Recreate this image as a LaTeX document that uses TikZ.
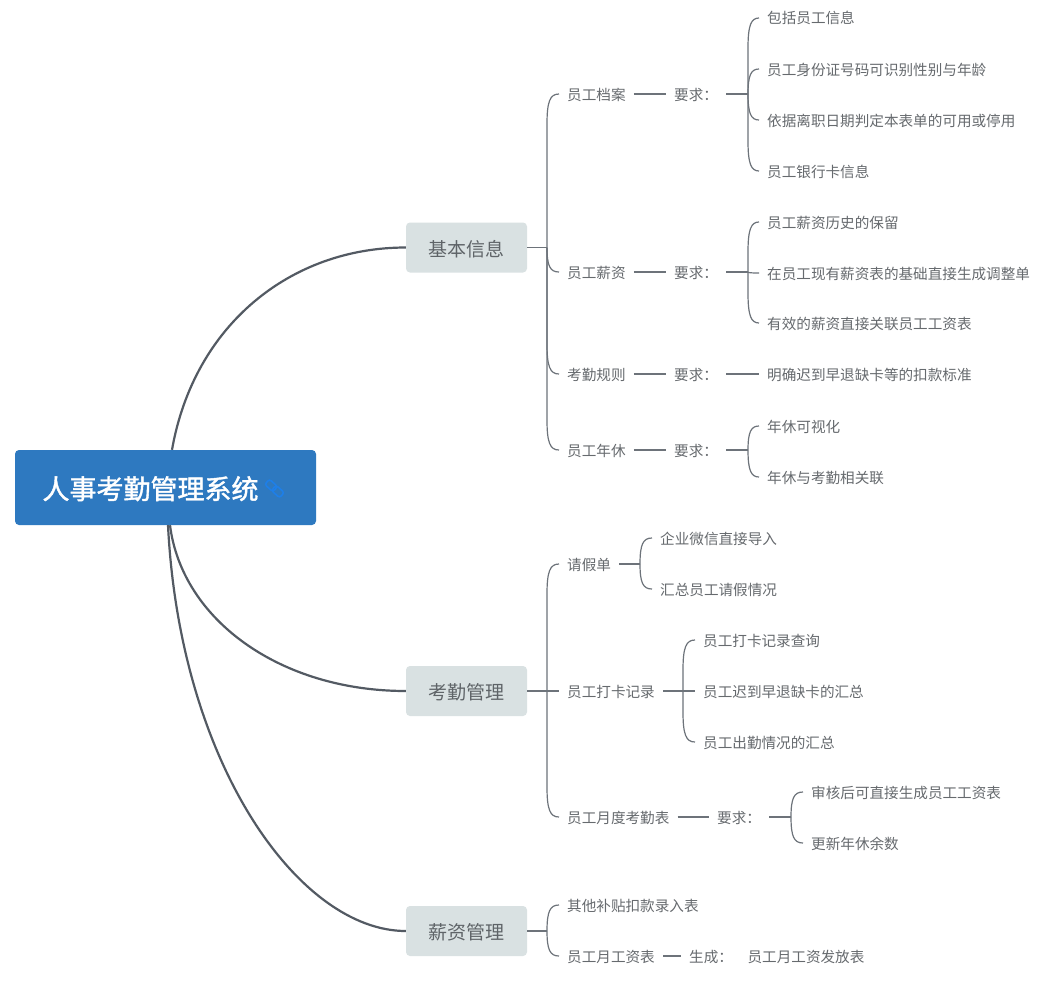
\documentclass[tikz,border=0pt]{standalone}
\usepackage{fontspec}
\usetikzlibrary{calc}
\setmainfont{Noto Sans CJK SC}
\newfontfamily\rootfont[FakeBold=1.5]{Noto Sans CJK SC}
\definecolor{rootblue}{HTML}{2E79C0}
\definecolor{branchfill}{HTML}{D9E1E2}
\definecolor{txtgray}{HTML}{666A6E}
\definecolor{branchtxt}{HTML}{5F6468}
\definecolor{linegray}{HTML}{535A63}
\definecolor{linkblue}{HTML}{1E7FE8}
\tikzset{
  x=1pt,y=-1pt,
  leaf/.style={anchor=west,inner xsep=8pt,inner ysep=0pt,text height=13pt,text depth=1pt,text=txtgray,font=\fontsize{14.6pt}{16pt}\selectfont},
  branchbox/.style={rounded corners=4pt,fill=branchfill,text=branchtxt,minimum width=121pt,minimum height=50pt,inner sep=0pt,text height=19pt,text depth=2pt,font=\fontsize{19pt}{22pt}\selectfont},
  rootbox/.style={rounded corners=4pt,fill=rootblue,text=white,minimum width=301pt,minimum height=75pt,inner sep=0pt,text height=26pt,text depth=3pt,font=\rootfont\fontsize{27pt}{30pt}\selectfont},
  mainline/.style={draw=linegray,line width=2.2pt},
  subline/.style={draw=linegray!85,line width=1.2pt},
  stub/.style={draw=linegray!85,line width=1.7pt},
  iconlink/.style={draw=linkblue,line width=1.6pt,rounded corners=2.5pt,minimum width=11pt,minimum height=7pt,inner sep=0pt},
}
% parent, child, x of the spine
\newcommand{\linkbrace}[3]{%
  \draw[stub] (#1.east) -- (#3pt,0 |- #1.east);
  \draw[subline] let \p1=(#1.east), \p2=(#2.west),
     \n1={min(abs(\y1-\y2),30pt)}, \n2={(\y1>\y2)?\n1:-\n1} in
     (#3pt,\y1) -- (#3pt,\y2+\n2) .. controls (#3pt,\y2+0.25*\n2) and (#3pt+3pt,\y2) .. (#2.west);
}
\begin{document}
\begin{tikzpicture}
\useasboundingbox (0,0) rectangle (1064,982);
\fill[white] (0,0) rectangle (1064,982);

\node[rootbox] (root) at (165.5,487.5) {人事考勤管理系统\rule{30pt}{0pt}};
\node[branchbox] (b1) at (466.5,247.5) {基本信息};
\node[branchbox] (b2) at (466.5,691) {考勤管理};
\node[branchbox] (b3) at (466.5,931) {薪资管理};

% link icon on the root
\begin{scope}[shift={(274.5,488.5)},rotate=-42]
\node[iconlink,rotate=-42] (ica) at (-4.5,0) {};
\node[iconlink,rotate=-42] (icb) at (4.5,0) {};
\end{scope}

% level 2
\node[leaf] (a1) at (559,94) {员工档案};
\node[leaf] (a1r) at (666,94) {要求：};
\node[leaf] (a2) at (559,272) {员工薪资};
\node[leaf] (a2r) at (666,272) {要求：};
\node[leaf] (a3) at (559,374) {考勤规则};
\node[leaf] (a3r) at (666,374) {要求：};
\node[leaf] (a4) at (559,450) {员工年休};
\node[leaf] (a4r) at (666,450) {要求：};
\node[leaf] (c1) at (559,564) {请假单};
\node[leaf] (c2) at (559,691) {员工打卡记录};
\node[leaf] (c3) at (559,817) {员工月度考勤表};
\node[leaf] (c3r) at (709,817) {要求：};
\node[leaf] (d1) at (559,905) {其他补贴扣款录入表};
\node[leaf] (d2) at (559,956) {员工月工资表};
\node[leaf] (d2r) at (681,956) {生成：\hspace{14.6pt}员工月工资发放表};

% leaves
\node[leaf] (l11) at (759,18) {包括员工信息};
\node[leaf] (l12) at (759,69) {员工身份证号码可识别性别与年龄};
\node[leaf] (l13) at (759,120) {依据离职日期判定本表单的可用或停用};
\node[leaf] (l14) at (759,171) {员工银行卡信息};
\node[leaf] (l21) at (759,222) {员工薪资历史的保留};
\node[leaf] (l22) at (759,273) {在员工现有薪资表的基础直接生成调整单};
\node[leaf] (l23) at (759,323) {有效的薪资直接关联员工工资表};
\node[leaf] (l31) at (759,374) {明确迟到早退缺卡等的扣款标准};
\node[leaf] (l41) at (759,426) {年休可视化};
\node[leaf] (l42) at (759,477) {年休与考勤相关联};
\node[leaf] (m11) at (652,538) {企业微信直接导入};
\node[leaf] (m12) at (652,589) {汇总员工请假情况};
\node[leaf] (m21) at (695,640) {员工打卡记录查询};
\node[leaf] (m22) at (695,691) {员工迟到早退缺卡的汇总};
\node[leaf] (m23) at (695,742) {员工出勤情况的汇总};
\node[leaf] (m31) at (803,792) {审核后可直接生成员工工资表};
\node[leaf] (m32) at (803,843) {更新年休余数};

% root connectors
\draw[mainline] ([xshift=6.5pt]root.north) .. controls +(22,-125) and +(-115,0) .. (b1.west);
\draw[mainline] ([xshift=4.5pt]root.south) .. controls +(12,95) and +(-125,0) .. (b2.west);
\draw[mainline] ([xshift=2.5pt]root.south) .. controls +(12,240) and +(-106,0) .. (b3.west);

% branch braces
\foreach \c in {a1,a2,a3,a4} {\linkbrace{b1}{\c}{547}}
\foreach \c in {c1,c2,c3} {\linkbrace{b2}{\c}{547}}
\foreach \c in {d1,d2} {\linkbrace{b3}{\c}{547}}

% requirement links
\foreach \p/\q in {a1/a1r,a2/a2r,a3/a3r,a4/a4r,c3/c3r,d2/d2r} {\draw[subline] (\p.east) -- (\q.west);}

% leaf braces
\foreach \c in {l11,l12,l13,l14} {\linkbrace{a1r}{\c}{748}}
\foreach \c in {l21,l22,l23} {\linkbrace{a2r}{\c}{748}}
\draw[subline] (a3r.east) -- (l31.west);
\foreach \c in {l41,l42} {\linkbrace{a4r}{\c}{748}}
\foreach \c in {m11,m12} {\linkbrace{c1}{\c}{640}}
\foreach \c in {m21,m22,m23} {\linkbrace{c2}{\c}{683}}
\foreach \c in {m31,m32} {\linkbrace{c3r}{\c}{791}}
\end{tikzpicture}
\end{document}
